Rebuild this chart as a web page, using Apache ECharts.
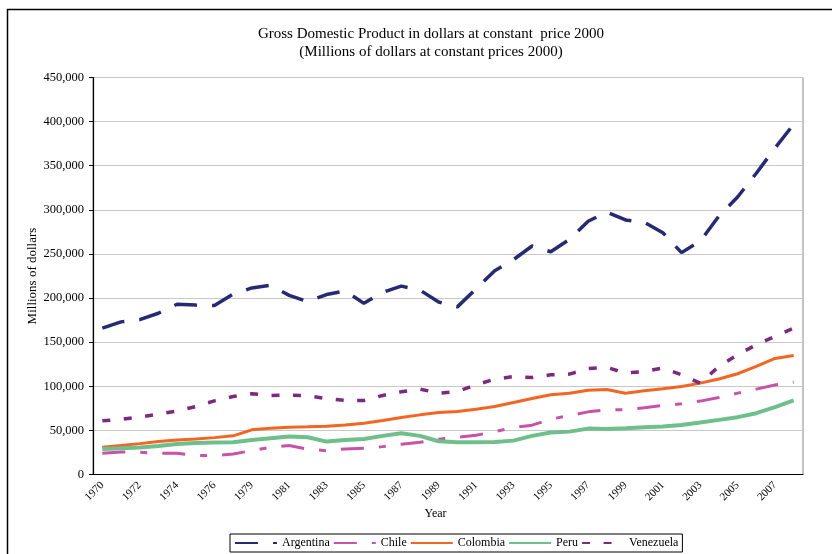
<!DOCTYPE html>
<html>
<head>
<meta charset="utf-8">
<script src="https://cdn.jsdelivr.net/npm/echarts@6/dist/echarts.min.js"></script>
<style>
  html, body { margin: 0; padding: 0; background: #fff; }
  #chart { width: 832px; height: 554px; }
</style>
</head>
<body>
<div id="chart"></div>
<script>
// years as they appear in the source table (1977 is not in it)
const years = ["1970","1971","1972","1973","1974","1975","1976","1978","1979","1980",
  "1981","1982","1983","1984","1985","1986","1987","1988","1989","1990",
  "1991","1992","1993","1994","1995","1996","1997","1998","1999","2000",
  "2001","2002","2003","2004","2005","2006","2007","2008"];

const argentina = [166000,173000,175500,182800,193000,192000,191500,204500,211500,214500,
  203000,196000,204000,208000,194000,206500,213500,209000,195500,190000,
  210500,231000,243500,259000,252500,266500,287000,297500,288500,286000,
  274000,251500,264500,293000,314500,341500,370000,397000];
const chile = [24000,25600,25200,24000,24000,21400,21400,23300,27000,30900,
  32800,28600,27000,29000,29700,31600,34300,36600,40000,42300,
  44500,48600,53200,55900,62700,66800,71000,73300,73300,75600,
  78200,80100,83200,87300,92200,96800,101400,104800];
const colombia = [30900,32800,35000,37300,39200,40300,41800,43800,50600,52500,
  53600,54000,54800,56200,58200,61100,64500,67600,70200,71400,
  74000,77000,81600,86100,90300,92200,95600,96400,92200,94900,
  97200,99800,103600,108200,114200,122500,131600,135000];
const peru = [29000,29700,30500,32400,34700,35800,36200,36600,39200,41100,
  43000,42300,37300,39200,40300,43800,46800,43800,37700,36600,
  36600,36900,38400,43800,47500,48600,52000,51700,52500,53600,
  54300,56200,58900,61900,65000,69500,76400,83900];
const venezuela = [60800,62700,65000,68400,72000,77000,83500,88400,91500,89600,
  90000,89200,86000,83900,83900,89600,93800,96800,92200,94000,
  101700,108000,111000,110000,113000,113800,120000,121400,115000,116800,
  120700,113000,103600,122500,135800,147000,156600,166000];

const serif = "Liberation Serif";

const mkLine = (name, data, color, width, type) => ({
  name: name,
  type: "line",
  data: data,
  symbol: "none",
  smooth: false,
  lineStyle: { color: color, width: width, type: type, cap: "butt" },
  itemStyle: { color: color },
});

const option = {
  animation: false,
  backgroundColor: "#fff",
  textStyle: { fontFamily: serif, color: "#000" },
  title: {
    text: "Gross Domestic Product in dollars at constant  price 2000\n(Millions of dollars at constant prices 2000)",
    left: 426,
    top: 20,
    textAlign: "center",
    textStyle: { fontFamily: serif, fontSize: 15, fontWeight: "normal", color: "#000", lineHeight: 18 },
  },
  graphic: [
    {
      type: "rect",
      shape: { x: 7.5, y: 9.5, width: 1000, height: 1000 },
      style: { fill: null, stroke: "#000", lineWidth: 1.5 },
      silent: true,
    },
  ],
  grid: {
    left: 93,
    right: 29,
    top: 77.5,
    bottom: 79.5,
    show: true,
    borderColor: "#888",
    borderWidth: 1,
  },
  legend: {
    left: 230,
    top: 534,
    itemWidth: 42,
    itemHeight: 8,
    itemGap: 3,
    padding: [3, 4],
    borderColor: "#000",
    borderWidth: 1,
    itemStyle: { opacity: 0 },
    textStyle: { fontFamily: serif, fontSize: 12, color: "#000" },
    data: ["Argentina", "Chile", "Colombia", "Peru", "Venezuela"],
  },
  xAxis: {
    type: "category",
    data: years,
    boundaryGap: true,
    name: "Year",
    nameLocation: "middle",
    nameGap: 33,
    nameMoveOverlap: false,
    nameTextStyle: { fontFamily: serif, fontSize: 12, color: "#000", padding: [0, 25, 0, 0] },
    axisLine: { lineStyle: { color: "#000", width: 1.2 } },
    axisTick: { interval: 0, inside: false, length: 4, lineStyle: { color: "#000" } },
    axisLabel: { interval: 1, rotate: 45, fontFamily: serif, fontSize: 11, color: "#000", margin: 9 },
    splitLine: { show: false },
  },
  yAxis: {
    type: "value",
    min: 0,
    max: 450000,
    interval: 50000,
    name: "Millions of dollars",
    nameLocation: "middle",
    nameGap: 54,
    nameMoveOverlap: false,
    nameTextStyle: { fontFamily: serif, fontSize: 13, color: "#000" },
    axisLine: { show: true, lineStyle: { color: "#000", width: 1.2 } },
    axisTick: { show: true, length: 4, lineStyle: { color: "#000" } },
    axisLabel: {
      fontFamily: serif,
      fontSize: 12.5,
      color: "#000",
      margin: 9,
      formatter: (v) => String(v).replace(/\B(?=(\d{3})+(?!\d))/g, ","),
    },
    splitLine: { lineStyle: { color: "#c8c8c8", width: 1 } },
  },
  series: [
    mkLine("Argentina", argentina, "#262a73", 3.5, [23, 15]),
    mkLine("Chile", chile, "#c852a8", 3, [23, 15, 7, 15]),
    mkLine("Colombia", colombia, "#f26522", 3, "solid"),
    mkLine("Peru", peru, "#6fbf8a", 4, "solid"),
    mkLine("Venezuela", venezuela, "#7b2a80", 3.5, [8, 13.5]),
  ],
};

var chartDom = document.getElementById("chart");
var myChart = echarts.init(chartDom, null, { renderer: "canvas" });
option && myChart.setOption(option);
</script>
</body>
</html>
